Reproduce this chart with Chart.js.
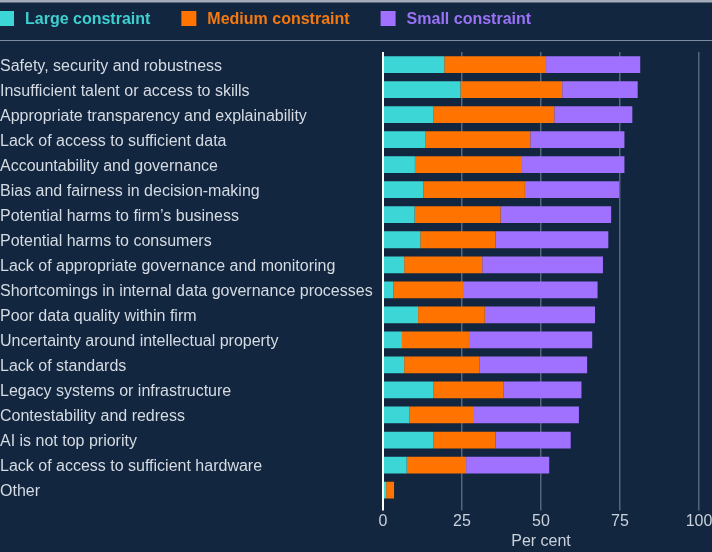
<!DOCTYPE html>
<html lang="en">
<head>
<meta charset="UTF-8">
<title>Constraints on AI use</title>
<script src="https://cdn.jsdelivr.net/npm/chart.js"></script>
<style>
    html, body { margin: 0; padding: 0; background: #13263f; }
    #wrap { width: 712px; height: 552px; position: relative; }
</style>
</head>
<body>
<div id="wrap"><canvas id="chart"></canvas></div>
<script>
    const categories = [
        'Safety, security and robustness',
        'Insufficient talent or access to skills',
        'Appropriate transparency and explainability',
        'Lack of access to sufficient data',
        'Accountability and governance',
        'Bias and fairness in decision-making',
        'Potential harms to firm\u2019s business',
        'Potential harms to consumers',
        'Lack of appropriate governance and monitoring',
        'Shortcomings in internal data governance processes',
        'Poor data quality within firm',
        'Uncertainty around intellectual property',
        'Lack of standards',
        'Legacy systems or infrastructure',
        'Contestability and redress',
        'AI is not top priority',
        'Lack of access to sufficient hardware',
        'Other'
    ];
    const largeValues  = [19.4, 24.5, 16.0, 13.5, 10.1, 12.8, 10.0, 11.8, 6.7, 3.3, 11.1, 6.0, 6.7, 16.0, 8.4, 16.0, 7.5, 1.0];
    const mediumValues = [32.2, 32.2, 38.2, 33.1, 33.9, 32.1, 27.2, 23.8, 24.7, 22.0, 21.1, 21.2, 23.9, 22.2, 20.4, 19.6, 18.8, 2.5];
    const smallValues  = [29.8, 23.9, 24.7, 29.8, 32.4, 29.8, 35.0, 35.7, 38.2, 42.6, 34.9, 39.0, 34.0, 24.6, 33.2, 23.8, 26.3, 0];
    const xTicks = [0, 25, 50, 75, 100];

    const FONT = '"Liberation Sans", Arial, sans-serif';

    // background, top strip, separator and the coloured legend
    const frame = {
        id: 'frame',
        beforeDraw(chart) {
            const c = chart.ctx;
            c.save();
            c.fillStyle = '#13263f';
            c.fillRect(0, 0, chart.width, chart.height);
            c.restore();
        },
        afterDraw(chart) {
            const c = chart.ctx;
            c.save();
            c.fillStyle = '#a3abb9';
            c.fillRect(0, 0, chart.width, 2.5);
            c.strokeStyle = '#7d8ca0';
            c.lineWidth = 1;
            c.beginPath();
            c.moveTo(0, 40.5);
            c.lineTo(chart.width, 40.5);
            c.stroke();

            c.font = 'bold 16px ' + FONT;
            c.textBaseline = 'middle';
            let x = -1;
            chart.data.datasets.forEach(ds => {
                c.fillStyle = ds.backgroundColor;
                c.fillRect(x, 11, 15, 15);
                c.fillStyle = ds.legendColor;
                c.fillText(ds.label, x + 26, 19.5);
                x += 26 + c.measureText(ds.label).width + 31;
            });
            c.restore();
        }
    };

    new Chart(document.getElementById('chart'), {
        type: 'bar',
        data: {
            labels: categories,
            datasets: [
                { label: 'Large constraint', data: largeValues, backgroundColor: '#3dd6d6', legendColor: '#3dd0d0' },
                { label: 'Medium constraint', data: mediumValues, backgroundColor: '#ff7300', legendColor: '#f47a10' },
                { label: 'Small constraint', data: smallValues, backgroundColor: '#a070ff', legendColor: '#9a72f5' }
            ]
        },
        plugins: [frame],
        options: {
            indexAxis: 'y',
            responsive: true,
            maintainAspectRatio: false,
            animation: false,
            layout: { padding: { top: 52, left: 0, right: 0, bottom: 0 } },
            datasets: { bar: { barPercentage: 0.67, categoryPercentage: 1.0, borderWidth: 0 } },
            plugins: {
                legend: { display: false },
                tooltip: { enabled: false }
            },
            scales: {
                x: {
                    stacked: true,
                    min: 0,
                    max: 100,
                    afterBuildTicks: scale => { scale.ticks = xTicks.map(v => ({ value: v })); },
                    afterFit: scale => { scale.paddingRight = 13; },
                    ticks: { color: '#c9d1dc', font: { family: FONT, size: 16 }, padding: 1, maxRotation: 0 },
                    grid: {
                        drawTicks: true,
                        tickLength: 8,
                        color: ctx => ctx.tick && ctx.tick.value === 0 ? '#ffffff' : 'rgba(150,165,185,0.5)',
                        lineWidth: ctx => ctx.tick && ctx.tick.value === 0 ? 2 : 1.5
                    },
                    border: { display: false },
                    title: {
                        display: true,
                        text: 'Per cent',
                        color: '#c9d1dc',
                        font: { family: FONT, size: 16 },
                        padding: { top: 0, bottom: 1 }
                    }
                },
                y: {
                    stacked: true,
                    afterFit: scale => { scale.width = 383; },
                    ticks: { color: '#d5dbe3', font: { family: FONT, size: 16 }, crossAlign: 'far', padding: 0, labelOffset: 2, autoSkip: false },
                    grid: { display: false },
                    border: { display: false }
                }
            }
        }
    });
</script>
</body>
</html>
